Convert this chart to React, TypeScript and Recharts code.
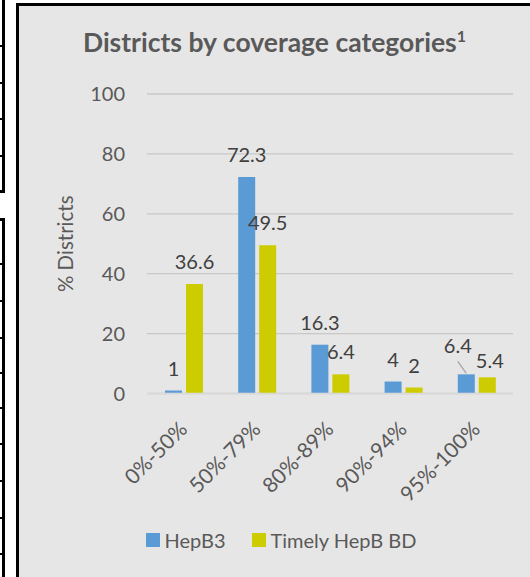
import React from 'react';
import { BarChart, Bar, XAxis, YAxis, CartesianGrid, LabelList, Legend } from 'recharts';

const categories = ['0%-50%', '50%-79%', '80%-89%', '90%-94%', '95%-100%'];
const hepB3 = [1, 72.3, 16.3, 4, 6.4];
const timelyHepBBD = [36.6, 49.5, 6.4, 2, 5.4];
const yTicks = [0, 20, 40, 60, 80, 100];
const seriesNames = ['HepB3', 'Timely HepB BD'];

// label nudges (dx, dy, leader line) – styling only
const hepB3Nudge: [number, number, boolean][] = [[0, 0, false], [0, 0, false], [0, 0, false], [0, 0, false], [-8.5, -6, true]];
const timelyNudge: [number, number, boolean][] = [[0, 0, false], [0, 0, false], [0, 0, false], [0, 0, false], [2.5, 6, false]];

const data = categories.map((c, i) => ({ category: c, hepB3: hepB3[i], timely: timelyHepBBD[i] }));

const FONT = 'Lato, "Noto Sans", sans-serif';
const BLUE = '#5b9bd5';
const YELLOW = '#cccc00';
const AXIS_TEXT = '#595959';
const LABEL_TEXT = '#404040';

const makeLabel = (nudges: [number, number, boolean][]) => (props: any) => {
  const { x, y, width, value, index } = props;
  const cx = Number(x) + Number(width) / 2;
  const top = Number(y);
  const [dx, dy, leader] = nudges[index] || [0, 0, false];
  return (
    <g>
      {leader && (
        <line x1={cx + dx} y1={top + dy + 1 - 8} x2={cx} y2={top - 1} stroke="#a6a6a6" strokeWidth={1.3} />
      )}
      <text x={cx + dx} y={top - 15 + dy} textAnchor="middle" fontFamily={FONT} fontSize={20} fill={LABEL_TEXT}>
        {value}
      </text>
    </g>
  );
};

const XTick = (props: any) => {
  const { x, y, payload } = props;
  const ax = Number(x) + 5;
  const ay = Number(y) + 37;
  return (
    <text x={ax} y={ay} transform={`rotate(-45, ${ax}, ${ay})`} textAnchor="end" fontFamily={FONT} fontSize={21} fill={AXIS_TEXT}>
      {payload.value}
    </text>
  );
};

const YTick = (props: any) => {
  const { y, payload } = props;
  return (
    <text x={106} y={Number(y)} dy="0.36em" textAnchor="end" fontFamily={FONT} fontSize={20} fill={AXIS_TEXT}>
      {payload.value}
    </text>
  );
};

const LegendContent = () => (
  <div style={{ display: 'flex', justifyContent: 'center', alignItems: 'center', paddingLeft: 13, fontFamily: FONT, fontSize: 20, color: AXIS_TEXT }}>
    {seriesNames.map((n, i) => (
      <div key={n} style={{ display: 'flex', alignItems: 'center', marginRight: i === 0 ? 26 : 0 }}>
        <div style={{ width: 14, height: 14, background: i === 0 ? BLUE : YELLOW, marginRight: 5 }} />
        <span>{n}</span>
      </div>
    ))}
  </div>
);

export default function App() {
  return (
    <div style={{ position: 'absolute', left: 0, top: 0, width: 530, height: 577, background: '#ffffff', overflow: 'hidden' }}>
      {/* fragments of neighbouring table */}
      <div style={{ position: 'absolute', left: 0, top: 0, width: 5, height: 193, borderRight: '3px solid #000', borderBottom: '3px solid #000', boxSizing: 'border-box' }} />
      {[45, 82, 118, 155].map((t) => (
        <div key={t} style={{ position: 'absolute', left: 0, top: t, width: 4, height: 2, background: '#000' }} />
      ))}
      <div style={{ position: 'absolute', left: 0, top: 218, width: 5, height: 359, borderRight: '3px solid #000', borderTop: '3px solid #000', boxSizing: 'border-box' }} />
      {[263, 300, 337, 372, 407, 443, 480, 517, 553].map((t) => (
        <div key={t} style={{ position: 'absolute', left: 0, top: t, width: 4, height: 2, background: '#000' }} />
      ))}
      <div
        style={{
          position: 'absolute',
          left: 16,
          top: 3,
          width: 514,
          height: 574,
          borderLeft: '3px solid #000',
          borderTop: '3px solid #000',
          background: '#e7e6e6',
          boxSizing: 'border-box',
        }}
      >
        <div
          style={{
            position: 'absolute',
            left: 0,
            top: 20,
            width: 511,
            textAlign: 'center',
            fontFamily: FONT,
            fontWeight: 700,
            fontSize: 26.5,
            lineHeight: '32px',
            color: AXIS_TEXT,
            whiteSpace: 'nowrap',
          }}
        >
          Districts by coverage categories
          <span style={{ fontSize: 16, position: 'relative', top: -10 }}>1</span>
        </div>
        <BarChart width={511} height={571} data={data} margin={{ top: 88, right: 17, left: 0, bottom: 0 }} barSize={17} barGap={4}>
          <CartesianGrid vertical={false} stroke="#c8c8c8" strokeWidth={1.3} />
          <XAxis
            dataKey="category"
            height={183.5}
            interval={0}
            tickLine={false}
            tickSize={0}
            tickMargin={0}
            axisLine={{ stroke: '#d9d9d9', strokeWidth: 1.5 }}
            tick={<XTick />}
          />
          <YAxis
            width={128}
            domain={[0, 100]}
            ticks={yTicks}
            axisLine={false}
            tickLine={false}
            tick={<YTick />}
            label={{
              content: (p: any) => {
                const vb = p.viewBox || {};
                const cy = Number(vb.y) + Number(vb.height) / 2;
                return (
                  <text x={54} y={cy} transform={`rotate(-90, 54, ${cy})`} textAnchor="middle" fontFamily={FONT} fontSize={20.5} fill={AXIS_TEXT}>
                    % Districts
                  </text>
                );
              },
            }}
          />
          <Legend verticalAlign="middle" content={<LegendContent />} wrapperStyle={{ top: 522, left: 0, width: 511 }} />
          <Bar dataKey="hepB3" name={seriesNames[0]} fill={BLUE} isAnimationActive={false}>
            <LabelList dataKey="hepB3" content={makeLabel(hepB3Nudge)} />
          </Bar>
          <Bar dataKey="timely" name={seriesNames[1]} fill={YELLOW} isAnimationActive={false}>
            <LabelList dataKey="timely" content={makeLabel(timelyNudge)} />
          </Bar>
        </BarChart>
      </div>
    </div>
  );
}
